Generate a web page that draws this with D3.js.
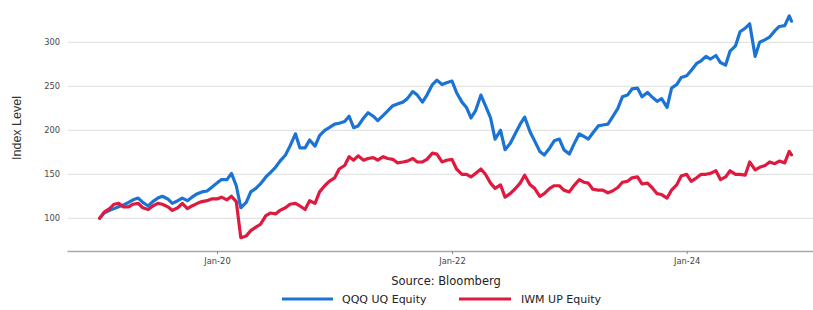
<!DOCTYPE html>
<html>
<head>
<meta charset="utf-8">
<script src="https://cdn.jsdelivr.net/npm/d3@7"></script>
<style>
  html, body { margin: 0; padding: 0; background: #fff; }
  svg { display: block; }
</style>
</head>
<body>
<svg id="chart" width="813" height="310"></svg>
<script>
// ---------------- data ----------------
const dates = [
  "2019-01-01","2019-01-15","2019-02-01","2019-02-15","2019-03-01","2019-03-15","2019-04-01","2019-04-15","2019-05-01","2019-05-15","2019-06-01","2019-06-15",
  "2019-07-01","2019-07-15","2019-08-01","2019-08-15","2019-09-01","2019-09-15","2019-10-01","2019-10-15","2019-11-01","2019-11-15","2019-12-01","2019-12-15",
  "2020-01-01","2020-01-15","2020-02-01","2020-02-15","2020-03-01","2020-03-15","2020-04-01","2020-04-15","2020-05-01","2020-05-15","2020-06-01","2020-06-15",
  "2020-07-01","2020-07-15","2020-08-01","2020-08-15","2020-09-01","2020-09-15","2020-10-01","2020-10-15","2020-11-01","2020-11-15","2020-12-01","2020-12-15",
  "2021-01-01","2021-01-15","2021-02-01","2021-02-15","2021-03-01","2021-03-15","2021-04-01","2021-04-15","2021-05-01","2021-05-15","2021-06-01","2021-06-15",
  "2021-07-01","2021-07-15","2021-08-01","2021-08-15","2021-09-01","2021-09-15","2021-10-01","2021-10-15","2021-11-01","2021-11-15","2021-12-01","2021-12-15",
  "2022-01-01","2022-01-15","2022-02-01","2022-02-15","2022-03-01","2022-03-15","2022-04-01","2022-04-15","2022-05-01","2022-05-15","2022-06-01","2022-06-15",
  "2022-07-01","2022-07-15","2022-08-01","2022-08-15","2022-09-01","2022-09-15","2022-10-01","2022-10-15","2022-11-01","2022-11-15","2022-12-01","2022-12-15",
  "2023-01-01","2023-01-15","2023-02-01","2023-02-15","2023-03-01","2023-03-15","2023-04-01","2023-04-15","2023-05-01","2023-05-15","2023-06-01","2023-06-15",
  "2023-07-01","2023-07-15","2023-08-01","2023-08-15","2023-09-01","2023-09-15","2023-10-01","2023-10-15","2023-11-01","2023-11-15","2023-12-01","2023-12-15",
  "2024-01-01","2024-01-15","2024-02-01","2024-02-15","2024-03-01","2024-03-15","2024-04-01","2024-04-15","2024-05-01","2024-05-15","2024-06-01","2024-06-15",
  "2024-07-01","2024-07-15","2024-08-01","2024-08-15","2024-09-01","2024-09-15","2024-10-01","2024-10-15","2024-11-01","2024-11-15","2024-11-22"
];

const qqq = [
  100,106,109,111,113,115,118,121,123,118,114,119,
  123,125,122,117,120,123,120,124,128,130,131,135,
  140,144,144,151,137,112,118,130,134,139,147,152,
  158,165,172,182,196,180,180,189,182,194,200,203,
  207,208,210,216,203,205,214,220,216,211,217,222,
  228,230,232,236,244,240,232,240,252,257,252,254,
  256,243,232,226,214,222,240,228,214,190,200,178,
  185,195,207,215,198,188,176,172,180,188,190,178,
  173,184,196,193,190,197,205,206,207,215,225,238,
  240,247,248,238,243,238,233,236,226,248,252,260,
  262,268,276,279,284,281,285,277,274,290,296,312,
  316,321,284,300,303,306,313,318,319,330,324
];

const iwm = [
  100,107,111,116,117,113,113,116,117,112,110,114,
  117,116,113,109,112,117,111,114,117,119,120,122,
  122,124,121,125,119,78,80,86,90,93,103,106,
  105,109,112,116,117,114,110,120,117,130,137,142,
  146,156,160,170,166,171,166,168,169,166,170,168,
  167,163,164,165,168,164,164,167,174,173,164,166,
  167,156,150,150,147,151,156,150,140,134,138,124,
  128,133,140,149,138,134,125,128,134,137,137,132,
  130,137,144,141,140,133,132,132,129,131,135,141,
  142,146,147,139,140,135,128,127,123,132,138,148,
  150,142,146,150,150,151,154,144,147,154,150,150,
  149,164,155,158,160,164,162,165,163,176,172
];

const seriesNames = ["QQQ UQ Equity", "IWM UP Equity"];
const seriesColors = ["#1b74d4", "#e0193f"];
const yTicks = [100, 150, 200, 250, 300];
const xTickLabels = ["Jan-20", "Jan-22", "Jan-24"];
const xTickDates = ["2020-01-01", "2022-01-01", "2024-01-01"];
const yLabel = "Index Level";
const sourceText = "Source: Bloomberg";

// ---------------- layout ----------------
const svg = d3.select("#chart");
const parse = d3.timeParse("%Y-%m-%d");
const dts = dates.map(parse);

const plotLeft = 67, plotRight = 813, axisY = 251;

const xCal = d3.scaleTime()
  .domain([parse("2020-01-01"), parse("2022-01-01")])
  .range([217, 452]);
const x = d3.scaleTime()
  .domain([xCal.invert(plotLeft), xCal.invert(plotRight)])
  .range([plotLeft, plotRight]);

const y = d3.scaleLinear().domain([100, 300]).range([218.3, 42.3]);

// gridlines
svg.append("g")
  .selectAll("line")
  .data(yTicks)
  .join("line")
  .attr("x1", plotLeft + 1)
  .attr("x2", plotRight)
  .attr("y1", d => y(d))
  .attr("y2", d => y(d))
  .attr("stroke", "#dcdcdc")
  .attr("stroke-width", 1);

// y tick labels
svg.append("g")
  .selectAll("text")
  .data(yTicks)
  .join("text")
  .attr("x", 60)
  .attr("y", d => y(d))
  .attr("dy", "0.35em")
  .attr("text-anchor", "end")
  .attr("font-family", "DejaVu Sans, sans-serif")
  .attr("font-size", 8.3)
  .attr("fill", "#4a4a4a")
  .text(d => d);

// y label
svg.append("text")
  .attr("transform", `translate(21,128) rotate(-90)`)
  .attr("text-anchor", "middle")
  .attr("font-family", "Liberation Sans Narrow, Liberation Sans, Arial, sans-serif")
  .attr("font-size", 12.5)
  .attr("fill", "#333")
  .text(yLabel);

// x axis
const xAxis = d3.axisBottom(x)
  .tickValues(xTickDates.map(parse))
  .tickFormat((d, i) => xTickLabels[i])
  .tickSize(3)
  .tickSizeOuter(0);

const gx = svg.append("g")
  .attr("transform", `translate(0,${axisY})`)
  .call(xAxis);
gx.select(".domain").attr("stroke", "#a8a8a8").attr("stroke-width", 1.5);
gx.selectAll(".tick line").attr("stroke", "#888");
gx.selectAll(".tick text")
  .attr("font-family", "DejaVu Sans, sans-serif")
  .attr("font-size", 8.3)
  .attr("fill", "#444")
  .attr("dy", "0.9em");

// lines
const seriesData = [qqq, iwm];
const line = d3.line()
  .x((d, i) => x(dts[i]))
  .y(d => y(d))
  .curve(d3.curveLinear);

svg.append("g")
  .selectAll("path")
  .data(seriesData)
  .join("path")
  .attr("d", d => line(d))
  .attr("fill", "none")
  .attr("stroke", (d, i) => seriesColors[i])
  .attr("stroke-width", 3.2)
  .attr("stroke-linejoin", "round")
  .attr("stroke-linecap", "round");

// source
svg.append("text")
  .attr("x", 446)
  .attr("y", 285)
  .attr("text-anchor", "middle")
  .attr("font-family", "DejaVu Sans, sans-serif")
  .attr("font-size", 11.5)
  .attr("fill", "#222")
  .text(sourceText);

// legend
const legendItems = [
  { x1: 282, x2: 333, tx: 342 },
  { x1: 459, x2: 511, tx: 521 }
];
const lg = svg.append("g");
legendItems.forEach((it, i) => {
  lg.append("line")
    .attr("x1", it.x1).attr("x2", it.x2)
    .attr("y1", 299).attr("y2", 299)
    .attr("stroke", seriesColors[i])
    .attr("stroke-width", 3);
  lg.append("text")
    .attr("x", it.tx)
    .attr("y", 303)
    .attr("font-family", "DejaVu Sans, sans-serif")
    .attr("font-size", 11)
    .attr("fill", "#222")
    .text(seriesNames[i]);
});
</script>
</body>
</html>
